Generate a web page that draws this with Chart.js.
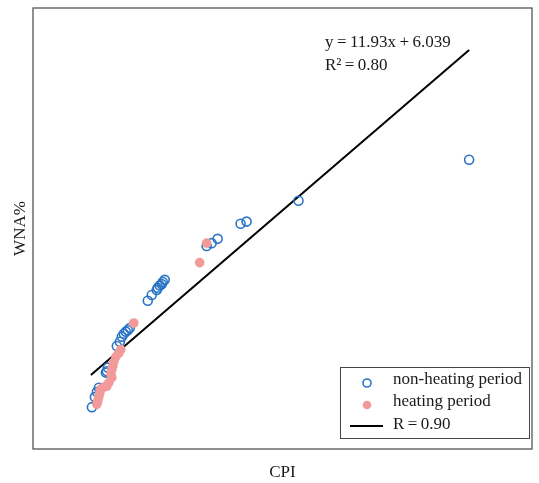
<!DOCTYPE html>
<html>
<head>
<meta charset="utf-8">
<script src="https://cdn.jsdelivr.net/npm/chart.js@4.4.1/dist/chart.umd.min.js"></script>
<style>
  html, body { margin: 0; padding: 0; background: #fff; }
  #wrap { width: 539px; height: 483px; }
</style>
</head>
<body>
<div id="wrap"><canvas id="cpiChart"></canvas></div>
<script>
// CPI vs WNA%
const nonHeatX = [4.37, 2.66, 2.14, 2.08, 1.85, 1.79, 1.74, 1.32, 1.30, 1.29, 1.27, 1.25, 1.24, 1.19, 1.15,
                  0.97, 0.95, 0.93, 0.91, 0.89, 0.87, 0.84, 0.75, 0.74, 0.73, 0.66, 0.64, 0.62, 0.59];
const nonHeatY = [42.9, 37.2, 34.3, 34.0, 31.9, 31.3, 30.9, 26.2, 25.9, 25.6, 25.4, 25.1, 24.8, 24.1, 23.3,
                  19.5, 19.2, 19.0, 18.7, 18.3, 17.6, 17.0, 14.0, 13.5, 13.3, 11.2, 10.6, 9.9, 8.5];

const heatX = [1.74, 1.67, 1.01, 0.88, 0.86, 0.83, 0.81, 0.80, 0.79, 0.78, 0.79, 0.76, 0.74, 0.71, 0.68,
               0.67, 0.66, 0.65, 0.64];
const heatY = [31.3, 28.6, 20.2, 16.5, 16.0, 15.5, 14.8, 14.2, 13.7, 13.1, 12.6, 11.9, 11.4, 11.3, 11.0,
               10.5, 9.9, 9.4, 8.9];

// fitted line end points (y = 11.93x + 6.039)
const fitX = [0.58, 4.37];
const fitY = [12.96, 58.17];

const fitLabel = 'y\u2009=\u200911.93x\u2009+\u20096.039';
const r2Label = 'R\u00B2\u2009=\u20090.80';

const blue = '#2a74c6';
const pink = '#f29a9a';
const serif = '"Liberation Serif", "DejaVu Serif", serif';

function toPoints(xs, ys) {
    return xs.map((x, i) => ({ x: x, y: ys[i] }));
}

// frame, equation text and the boxed legend
const extras = {
    id: 'extras',
    afterDraw(chart) {
        const ctx = chart.ctx;
        const a = chart.chartArea;
        ctx.save();
        ctx.strokeStyle = '#555';
        ctx.lineWidth = 1.3;
        ctx.strokeRect(a.left, a.top, a.right - a.left, a.bottom - a.top);

        ctx.fillStyle = '#1a1a1a';
        ctx.font = '17px ' + serif;
        ctx.textBaseline = 'middle';
        ctx.textAlign = 'left';
        ctx.fillText(fitLabel, 325, 43);
        ctx.fillText(r2Label, 325, 66);

        // legend box
        const bx = 340, by = 367, bw = 189, bh = 71;
        ctx.fillStyle = '#fff';
        ctx.fillRect(bx, by, bw, bh);
        ctx.strokeStyle = '#444';
        ctx.lineWidth = 1;
        ctx.strokeRect(bx + 0.5, by + 0.5, bw, bh);

        ctx.lineWidth = 1.6;
        ctx.strokeStyle = blue;
        ctx.beginPath();
        ctx.arc(367, 383, 4, 0, Math.PI * 2);
        ctx.stroke();
        ctx.fillStyle = pink;
        ctx.beginPath();
        ctx.arc(367, 405, 4.3, 0, Math.PI * 2);
        ctx.fill();
        ctx.strokeStyle = '#000';
        ctx.lineWidth = 1.8;
        ctx.beginPath();
        ctx.moveTo(350, 426);
        ctx.lineTo(383, 426);
        ctx.stroke();

        ctx.fillStyle = '#1a1a1a';
        ctx.font = '17px ' + serif;
        ctx.fillText('non-heating period', 393, 380);
        ctx.fillText('heating period', 393, 402);
        ctx.fillText(chart.data.datasets[2].label, 393, 425);
        ctx.restore();
    }
};

new Chart(document.getElementById('cpiChart'), {
    type: 'scatter',
    data: {
        datasets: [
            {
                label: 'heating period',
                data: toPoints(heatX, heatY),
                backgroundColor: pink,
                borderColor: pink,
                pointRadius: 4.8,
                pointBorderWidth: 0
            },
            {
                label: 'non-heating period',
                data: toPoints(nonHeatX, nonHeatY),
                backgroundColor: 'rgba(0,0,0,0)',
                borderColor: blue,
                pointRadius: 4.5,
                pointBorderWidth: 1.6
            },
            {
                type: 'line',
                label: 'R\u2009=\u20090.90',
                data: toPoints(fitX, fitY),
                borderColor: '#000',
                borderWidth: 2,
                pointRadius: 0,
                fill: false
            }
        ]
    },
    options: {
        responsive: true,
        maintainAspectRatio: false,
        animation: false,
        layout: { padding: { top: 8, right: 7, left: 10, bottom: 0 } },
        scales: {
            x: {
                type: 'linear',
                min: 0,
                max: 5,
                grid: { display: false },
                border: { display: false },
                ticks: { display: false },
                title: { display: true, text: 'CPI', color: '#1a1a1a', font: { family: serif, size: 17 }, padding: { top: 13, bottom: 0 } },
                afterFit(scale) { scale.height = 34; }
            },
            y: {
                min: 2.68,
                max: 64.0,
                grid: { display: false },
                border: { display: false },
                ticks: { display: false },
                title: { display: true, text: 'WNA%', color: '#1a1a1a', font: { family: serif, size: 17 }, padding: { top: 0, bottom: 0 } },
                afterFit(scale) { scale.width = 23; }
            }
        },
        plugins: {
            legend: { display: false },
            tooltip: { enabled: false }
        }
    },
    plugins: [extras]
});
</script>
</body>
</html>
